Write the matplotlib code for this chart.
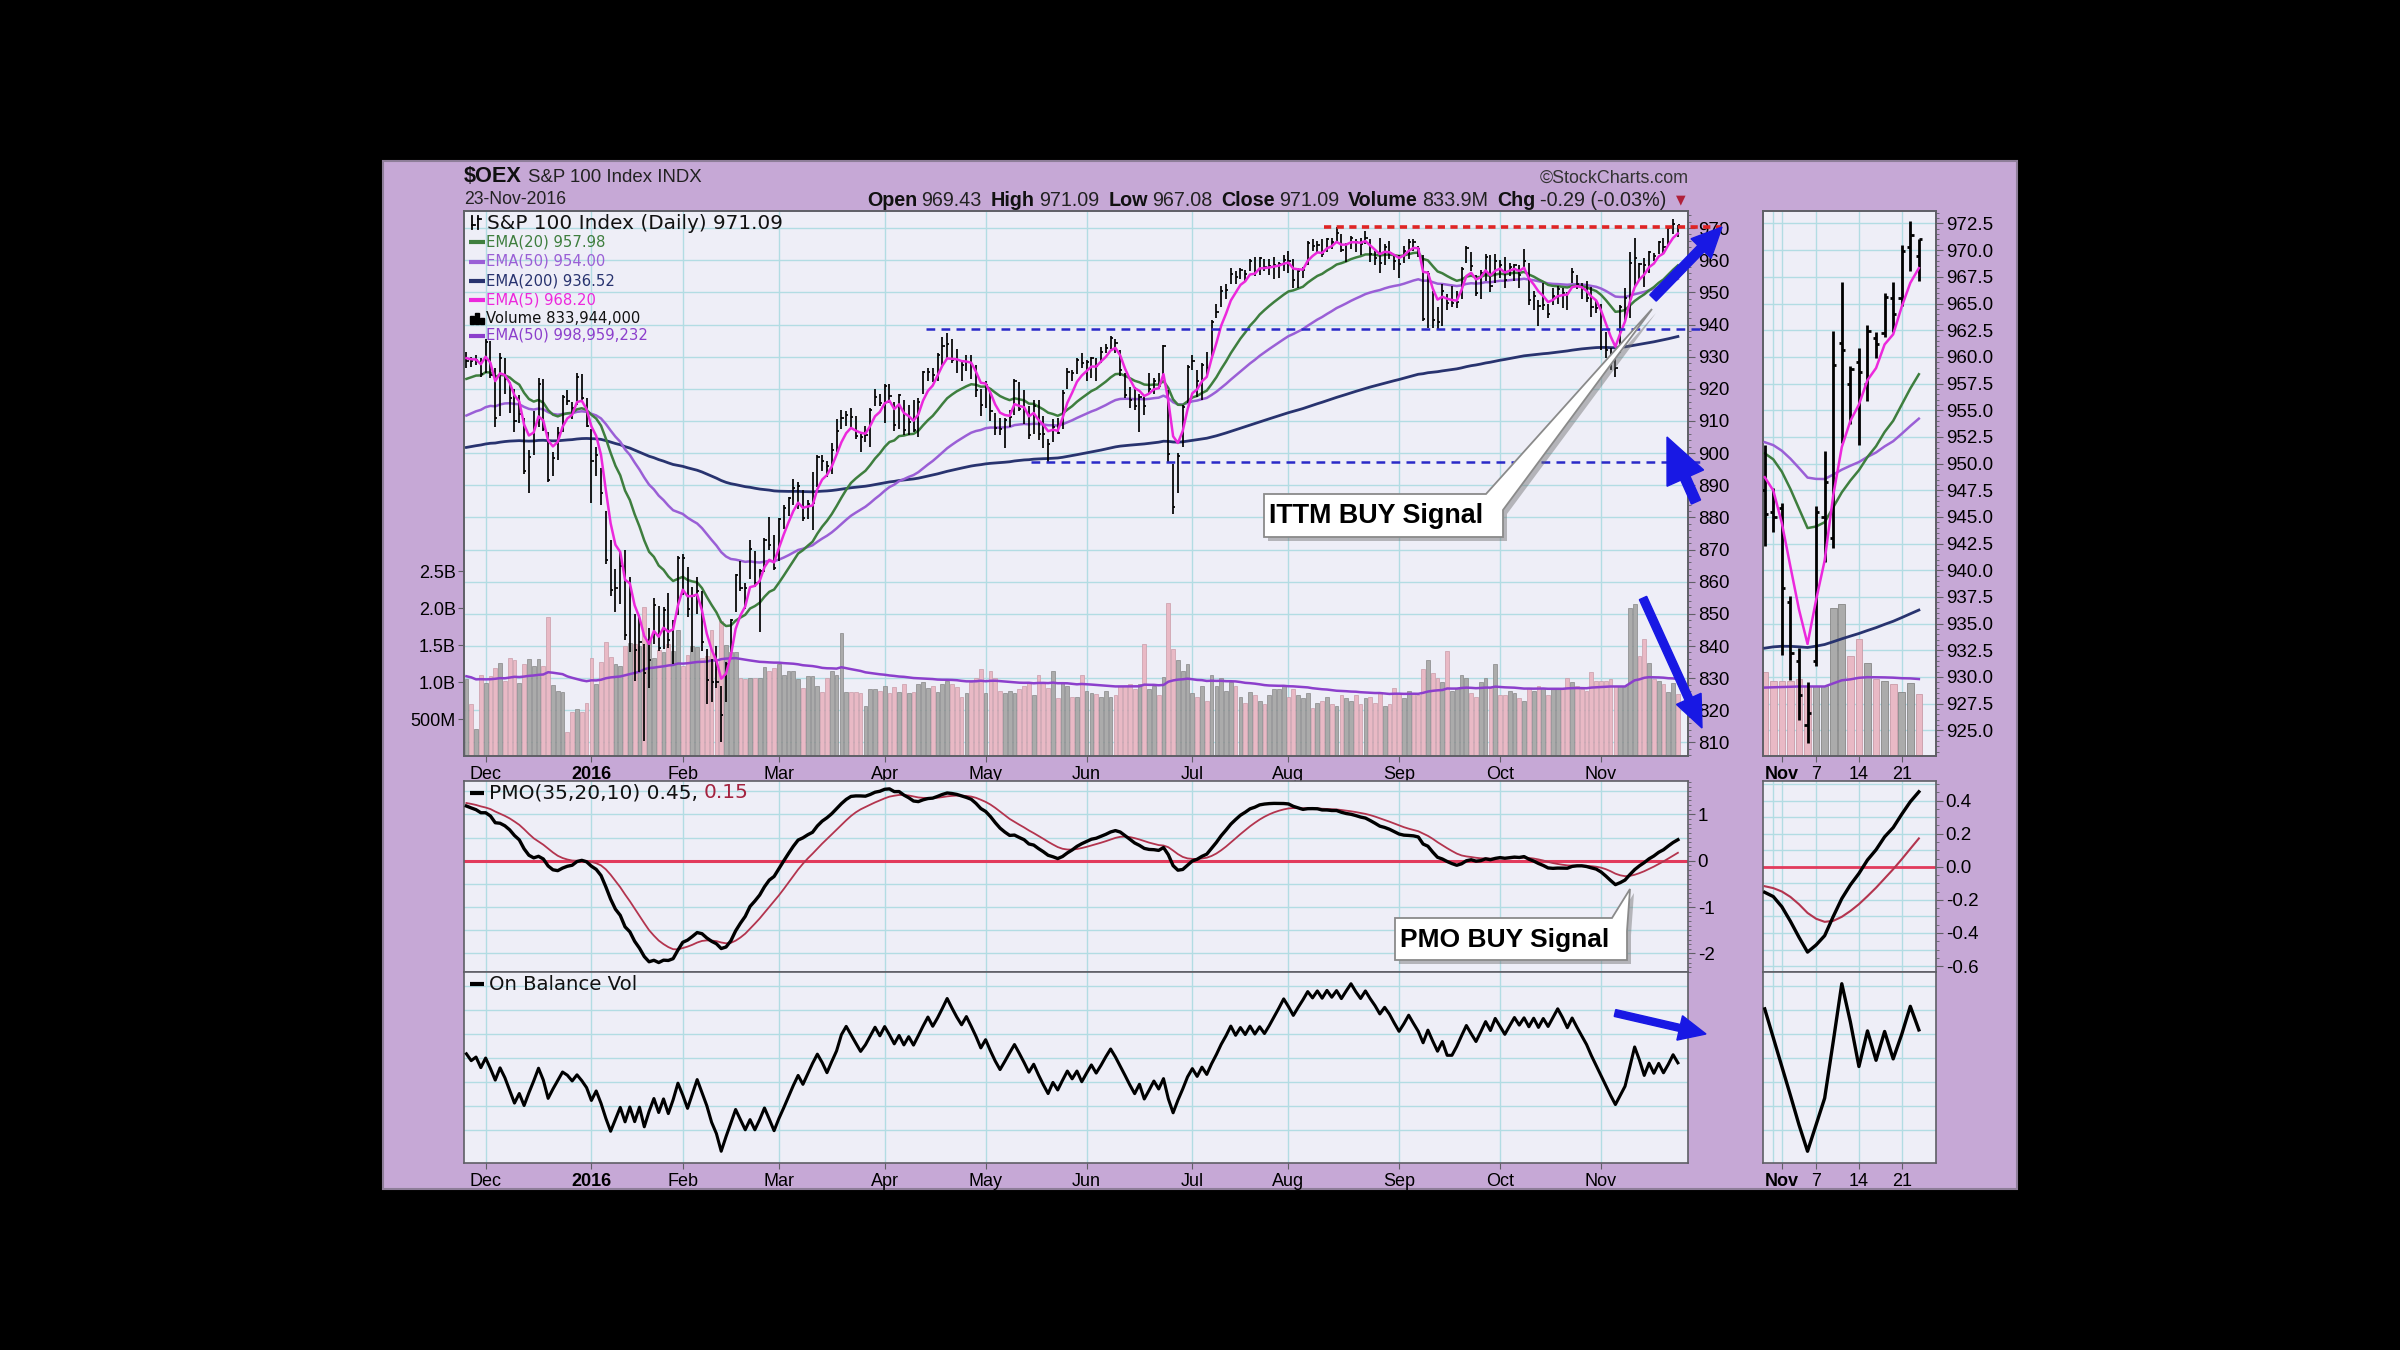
import numpy as np
import pandas as pd
import matplotlib
matplotlib.use("Agg")
import matplotlib.pyplot as plt
from matplotlib import font_manager as fm
from matplotlib.patches import Rectangle, Polygon, FancyArrow
from matplotlib.ticker import MultipleLocator

# ------------------------------------------------------------------ data
holidays = ["2015-11-26", "2015-12-25", "2016-01-01", "2016-01-18", "2016-02-15",
            "2016-03-25", "2016-05-30", "2016-07-04", "2016-09-05"]
close_before = 927.5

close_nov15 = [928.6, 928.5, 929.0, 924.7]
close_dec15 = [934.6, 924.3, 911.0, 929.7, 923.2, 917.2, 910.1, 912.2, 894.5, 898.7, 908.3,
               921.4, 907.6, 891.5, 898.4, 906.3, 917.5, 916.1, 914.1, 923.8, 917.1, 908.5]
close_jan = [897.6, 899.4, 887.7, 866.7, 857.4, 858.1, 864.8, 843.3, 857.3, 838.9, 841.3,
             831.5, 835.8, 852.7, 839.4, 851.2, 842.0, 846.7, 867.5]
close_feb = [867.3, 851.4, 855.7, 857.0, 841.2, 829.4, 828.9, 828.7, 818.6, 834.5, 848.1,
             862.0, 858.0, 857.9, 870.3, 859.5, 863.3, 873.1, 871.4, 864.4]
close_mar = [879.4, 883.0, 886.1, 889.0, 889.8, 879.8, 884.2, 884.4, 898.9, 897.7, 896.1,
             901.1, 907.0, 911.0, 911.9, 911.1, 905.3, 905.0, 905.5, 913.4, 917.4, 915.5]
close_apr = [920.8, 917.9, 908.6, 918.1, 907.1, 909.6, 907.2, 915.9, 925.1, 925.3, 924.3,
             930.4, 933.3, 934.0, 929.1, 928.9, 927.5, 928.2, 927.4, 919.7, 915.0]
close_may = [921.2, 913.1, 907.7, 907.5, 910.4, 911.1, 922.5, 913.6, 913.5, 905.7, 914.6,
             906.0, 905.8, 902.8, 908.2, 906.3, 918.8, 925.2, 925.0, 929.0, 928.0]
close_jun = [928.3, 929.7, 927.0, 931.6, 932.8, 935.9, 934.3, 925.7, 918.1, 916.4, 914.7,
             917.6, 914.6, 920.0, 922.5, 920.9, 933.3, 899.6, 883.2, 899.0, 914.4, 926.9]
close_jul = [928.7, 922.3, 927.3, 926.5, 940.7, 943.9, 950.5, 950.7, 955.7, 954.8, 957.1,
             955.7, 959.8, 956.3, 960.7, 957.8, 958.1, 958.6, 958.9, 960.1]
close_aug = [959.9, 953.7, 956.7, 956.9, 965.2, 964.3, 964.7, 961.9, 966.5, 965.7, 968.4,
             963.1, 964.9, 967.0, 965.6, 965.1, 967.0, 961.9, 960.6, 959.1, 964.1, 962.2, 959.9]
close_sep = [958.9, 962.9, 965.8, 965.7, 963.5, 941.7, 955.6, 941.4, 940.8, 950.4, 946.8,
             946.8, 947.1, 957.4, 963.7, 958.1, 949.9, 956.0, 961.1, 952.1, 959.7]
close_oct = [958.6, 953.8, 957.9, 958.4, 955.3, 959.7, 947.7, 948.8, 945.9, 946.0, 943.2,
             949.0, 951.1, 949.8, 949.7, 956.2, 952.6, 950.9, 948.1, 945.3, 945.0]
close_nov = [938.3, 932.2, 928.3, 926.6, 945.5, 948.3, 959.2, 960.6, 958.9, 958.6, 962.4,
             961.2, 965.6, 964.0, 969.9, 971.38, 971.09]

high_nov15 = [931.5, 930.0, 930.5, 929.5]
high_dec15 = [935.5, 935.0, 926.5, 931.0, 929.5, 922.0, 920.0, 918.0, 911.0, 901.0, 913.0,
              923.5, 923.0, 906.5, 900.5, 908.0, 918.0, 919.5, 916.0, 925.0, 924.5, 917.0]
high_jan = [907.5, 902.0, 895.5, 882.0, 873.0, 864.0, 869.5, 870.0, 861.5, 850.0, 849.5,
            840.5, 845.5, 855.0, 852.5, 852.0, 856.5, 848.0, 868.0]
high_feb = [868.5, 864.5, 858.5, 861.5, 857.0, 839.0, 836.0, 840.0, 827.5, 835.0, 848.5,
            862.5, 866.5, 859.5, 873.0, 869.5, 864.0, 873.5, 880.0, 874.5]
high_mar = [879.8, 884.0, 886.5, 892.0, 891.0, 888.5, 885.5, 894.0, 899.5, 899.5, 897.5,
            903.0, 910.5, 913.5, 913.0, 914.0, 911.5, 905.8, 908.5, 914.0, 920.0, 918.5]
high_apr = [921.5, 921.5, 916.0, 918.5, 916.5, 915.0, 916.5, 917.0, 925.5, 926.5, 926.5,
            931.0, 936.0, 937.3, 935.5, 932.5, 928.5, 930.5, 930.5, 927.5, 920.0]
high_may = [922.5, 919.0, 912.5, 911.0, 910.8, 913.5, 923.0, 922.0, 919.5, 914.5, 916.5,
            916.5, 911.5, 904.5, 910.5, 911.0, 919.5, 926.5, 926.0, 929.5, 931.0]
high_jun = [929.0, 930.0, 929.5, 933.0, 934.0, 936.5, 935.5, 932.0, 925.0, 920.5, 920.5,
            918.5, 917.5, 925.0, 923.5, 925.0, 933.5, 919.5, 896.5, 900.0, 915.0, 927.5]
high_jul = [930.5, 926.0, 928.0, 931.5, 941.5, 946.5, 952.0, 952.5, 957.5, 956.5, 957.5,
            957.0, 960.5, 961.0, 961.0, 960.5, 960.5, 961.0, 959.5, 961.5]
high_aug = [963.0, 960.5, 957.5, 958.0, 966.0, 966.5, 966.0, 966.5, 966.8, 967.0, 970.2,
            968.0, 965.5, 967.5, 966.5, 967.0, 969.0, 966.5, 963.0, 967.0, 965.0, 966.0, 961.5]
high_sep = [961.5, 964.5, 966.5, 966.5, 964.5, 961.5, 956.5, 950.5, 945.5, 952.5, 949.5,
            952.0, 950.5, 958.0, 964.5, 962.5, 955.5, 957.0, 961.8, 961.5, 962.0]
high_oct = [960.0, 961.0, 959.0, 958.8, 958.5, 963.5, 959.0, 950.5, 947.5, 953.0, 946.5,
            951.5, 952.0, 951.5, 950.0, 957.5, 955.5, 953.0, 953.5, 951.7, 947.7]
high_nov = [946.3, 937.6, 932.7, 929.5, 946.0, 951.2, 962.4, 967.0, 959.1, 960.8, 963.0,
            962.3, 966.0, 967.0, 970.5, 972.7, 971.09]

low_nov15 = [926.5, 926.8, 927.5, 923.8]
low_dec15 = [925.0, 923.5, 908.0, 911.5, 918.5, 912.5, 906.5, 909.5, 893.5, 887.5, 899.5,
             908.0, 907.0, 891.0, 893.0, 898.0, 906.5, 915.0, 910.5, 915.0, 916.5, 908.0]
low_jan = [884.5, 893.0, 884.0, 865.5, 855.5, 850.5, 853.0, 842.0, 838.0, 829.0, 832.0,
           810.6, 827.0, 840.5, 838.5, 839.0, 839.5, 834.5, 849.5]
low_feb = [856.0, 849.0, 838.0, 850.0, 838.5, 822.0, 822.5, 827.0, 810.2, 822.5, 838.0,
           850.5, 857.0, 851.5, 861.0, 858.5, 844.5, 863.0, 870.0, 863.5]
low_mar = [866.5, 876.5, 880.5, 884.0, 882.5, 879.0, 879.5, 876.0, 889.5, 894.5, 892.5,
           893.5, 900.5, 907.5, 908.5, 907.5, 904.5, 900.5, 903.5, 902.0, 914.5, 914.5]
low_apr = [909.5, 915.5, 907.0, 907.5, 905.5, 905.5, 906.5, 905.0, 918.5, 922.5, 922.0,
           922.5, 927.5, 929.5, 928.0, 925.0, 922.5, 925.5, 923.0, 917.5, 911.5]
low_may = [914.0, 910.0, 905.5, 905.5, 901.5, 908.0, 912.0, 913.0, 909.0, 904.5, 906.0,
           904.0, 901.5, 897.0, 903.5, 906.0, 907.5, 920.0, 922.5, 924.5, 926.5]
low_jun = [922.5, 923.5, 922.5, 928.0, 931.0, 932.5, 931.0, 924.0, 917.0, 914.0, 913.5,
           906.5, 912.0, 918.5, 918.5, 920.0, 924.0, 897.0, 881.0, 887.5, 902.0, 915.5]
low_jul = [926.0, 917.5, 916.5, 924.0, 930.0, 942.0, 945.5, 948.0, 952.5, 952.5, 954.0,
           953.5, 956.5, 955.0, 955.5, 956.5, 955.5, 954.0, 954.5, 956.5]
low_aug = [956.0, 951.5, 951.5, 954.5, 958.5, 963.0, 962.5, 961.0, 962.5, 963.5, 966.0,
           962.5, 959.5, 963.5, 962.5, 961.5, 965.0, 959.5, 958.5, 956.0, 958.5, 960.5, 957.0]
low_sep = [954.5, 959.0, 960.5, 963.0, 961.0, 941.0, 939.0, 939.0, 938.5, 939.5, 944.5,
           945.5, 945.0, 948.0, 959.0, 956.5, 949.0, 948.0, 953.5, 950.0, 953.0]
low_oct = [954.5, 951.5, 955.0, 953.5, 951.5, 957.5, 946.0, 944.5, 939.5, 944.5, 942.0,
           946.0, 946.5, 945.0, 944.5, 953.0, 951.0, 948.0, 947.0, 942.3, 943.6]
low_nov = [932.1, 929.7, 926.0, 923.8, 931.0, 940.8, 942.1, 951.9, 953.7, 951.7, 955.9,
           959.9, 961.9, 962.3, 964.8, 968.0, 967.08]

# opens for the last 19 sessions (zoomed panel, 28-Oct .. 23-Nov)
open_recent = [947.5, 945.5, 945.8, 937.0, 931.5, 925.5, 931.5, 945.0, 943.0, 961.3,
               957.5, 959.5, 957.5, 961.8, 962.2, 965.5, 965.5, 970.3, 969.43]

# volume in billions of shares
vol_nov15 = [1.04, 0.70, 0.37, 1.09]
vol_dec15 = [0.99, 1.08, 1.19, 1.26, 1.01, 1.32, 1.30, 0.99, 1.24, 1.31, 1.22, 1.31, 1.22,
             1.88, 0.96, 0.88, 0.87, 0.33, 0.59, 0.63, 0.60, 0.72]
vol_jan = [1.32, 0.98, 1.27, 1.54, 1.34, 1.24, 1.22, 1.49, 1.53, 1.51, 1.49, 2.02, 1.58,
           1.33, 1.44, 1.40, 1.51, 1.42, 1.71]
vol_feb = [1.22, 1.37, 1.49, 1.47, 1.33, 1.35, 1.71, 1.17, 1.82, 1.50, 1.40, 1.40, 1.05,
           1.04, 1.05, 1.05, 1.05, 1.20, 1.15, 1.19]
vol_mar = [1.25, 1.10, 1.15, 1.15, 1.04, 0.92, 1.08, 1.08, 0.95, 0.86, 1.05, 1.15, 1.10,
           1.66, 0.86, 0.87, 0.86, 0.85, 0.68, 0.91, 0.90, 0.88]
vol_apr = [0.95, 0.85, 0.93, 0.87, 0.98, 0.85, 0.87, 0.97, 1.00, 0.92, 0.95, 0.86, 0.98,
           1.02, 0.98, 0.93, 0.80, 0.85, 1.00, 1.05, 1.18]
vol_may = [0.85, 1.15, 1.05, 0.88, 0.85, 0.88, 0.85, 0.90, 0.95, 1.00, 0.82, 1.10, 1.00,
           0.92, 1.15, 0.78, 1.00, 0.95, 0.80, 0.80, 1.10]
vol_jun = [0.88, 0.85, 0.84, 0.80, 0.88, 0.80, 0.82, 0.95, 0.95, 0.98, 0.90, 0.97, 1.52,
           0.90, 0.95, 0.82, 1.07, 2.07, 1.45, 1.30, 1.15, 1.25]
vol_jul = [0.85, 0.80, 0.95, 0.75, 1.10, 0.95, 1.05, 0.88, 1.00, 0.95, 0.80, 0.72, 0.87,
           0.82, 0.75, 0.70, 0.82, 0.90, 0.90, 0.95]
vol_aug = [0.80, 0.90, 0.82, 0.78, 0.85, 0.65, 0.72, 0.75, 0.80, 0.70, 0.68, 0.82, 0.78,
           0.75, 0.82, 0.70, 0.78, 0.80, 0.72, 0.85, 0.68, 0.70, 0.92]
vol_sep = [0.85, 0.78, 0.88, 0.85, 0.82, 1.17, 1.30, 1.12, 1.05, 1.00, 1.42, 0.88, 0.92,
           1.10, 1.05, 0.85, 0.80, 1.00, 1.05, 0.92, 1.25]
vol_oct = [0.82, 0.82, 0.88, 0.85, 0.78, 0.75, 0.92, 0.88, 0.95, 0.92, 0.82, 0.92, 0.90,
           0.90, 1.05, 1.00, 0.95, 0.90, 0.88, 1.14, 1.02]
vol_nov = [1.02, 1.02, 1.04, 0.94, 0.94, 0.94, 2.00, 2.05, 1.35, 1.58, 1.26, 1.04, 1.02,
           0.97, 0.87, 0.99, 0.834]

# indicator starting states (values at the left edge)
ema_seeds = {5: 930.0, 20: 922.5, 50: 911.0, 200: 901.5}
vol_ema_seed = 1.08
pmo_inner_seed = 0.8
pmo_seed = 1.22
pmo_signal_seed = 1.26

price_ticks = list(range(810, 971, 10))
zoom_price_ticks = [925.0, 927.5, 930.0, 932.5, 935.0, 937.5, 940.0, 942.5, 945.0, 947.5,
                    950.0, 952.5, 955.0, 957.5, 960.0, 962.5, 965.0, 967.5, 970.0, 972.5]
vol_ticks = [0.5, 1.0, 1.5, 2.0, 2.5]
vol_tick_labels = ["500M", "1.0B", "1.5B", "2.0B", "2.5B"]
pmo_ticks = [1, 0, -1, -2]
zoom_pmo_ticks = [0.4, 0.2, 0.0, -0.2, -0.4, -0.6]

resistance_level = 970.4
support_levels = [938.5, 897.2]

# ------------------------------------------------------------------ assemble
def cat(*parts):
    out = []
    for p in parts:
        out += p
    return np.array(out, dtype=float)

close = cat(close_nov15, close_dec15, close_jan, close_feb, close_mar, close_apr, close_may,
            close_jun, close_jul, close_aug, close_sep, close_oct, close_nov)
high = cat(high_nov15, high_dec15, high_jan, high_feb, high_mar, high_apr, high_may,
           high_jun, high_jul, high_aug, high_sep, high_oct, high_nov)
low = cat(low_nov15, low_dec15, low_jan, low_feb, low_mar, low_apr, low_may,
          low_jun, low_jul, low_aug, low_sep, low_oct, low_nov)
vol = cat(vol_nov15, vol_dec15, vol_jan, vol_feb, vol_mar, vol_apr, vol_may,
          vol_jun, vol_jul, vol_aug, vol_sep, vol_oct, vol_nov)
n = len(close)
x = np.arange(n)
dates = pd.bdate_range("2015-11-24", "2016-11-23", freq="C", holidays=holidays)[:n]


def ema(values, seed, k):
    out = np.empty(len(values))
    e = seed
    for i, v in enumerate(values):
        e = e + k * (v - e)
        out[i] = e
    return out


emas = {p: ema(close, ema_seeds[p], 2.0 / (p + 1)) for p in (5, 20, 50, 200)}
vol_ema = ema(vol, vol_ema_seed, 2.0 / 51)
prev = np.concatenate([[close_before], close[:-1]])
roc = close / prev * 100 - 100
pmo_inner = ema(roc * 10, pmo_inner_seed, 2.0 / 35)
pmo = ema(pmo_inner, pmo_seed, 2.0 / 20)
pmo_sig = ema(pmo, pmo_signal_seed, 2.0 / 11)
obv = np.cumsum(np.sign(close - prev) * vol)
down = close < prev

month_idx = [i for i in range(1, n) if dates[i].month != dates[i - 1].month]
month_lbl = ["2016" if dates[i].month == 1 else dates[i].strftime("%b") for i in month_idx]

Z0 = n - 19  # first session of the zoomed panel (28-Oct)
zoom_ticks = [Z0 + 2, Z0 + 6, Z0 + 11, Z0 + 16]
zoom_tick_lbl = ["Nov", "7", "14", "21"]
zoom_grid = [Z0 + 1, Z0 + 2, Z0 + 6, Z0 + 11, Z0 + 16]

# ------------------------------------------------------------------ style
fonts = fm.fontManager.ttflist
names = {f.name for f in fonts}
SANS = "Liberation Sans" if "Liberation Sans" in names else "DejaVu Sans"
NARROW = "Liberation Sans Narrow" if "Liberation Sans Narrow" in names else SANS
VERD = "DejaVu Sans"
HAS_DJV_COND = any(f.name == "DejaVu Sans" and str(f.stretch).lower() in ("condensed", "semi-condensed")
                   for f in fonts)
LEG_FONT = dict(family="DejaVu Sans", fontstretch="condensed") if HAS_DJV_COND else dict(family=NARROW)
plt.rcParams["font.family"] = [SANS, "DejaVu Sans"]

PURPLE = "#C6A8D6"
FACE = "#EEEEF7"
GRID = "#B2DCE3"
SPINE = "#5F5F66"
C_E20, C_E50, C_E200, C_E5 = "#3E7E3E", "#9A5FD6", "#28336F", "#EC28DC"
C_VEMA = "#8C3FCC"
PINK, PINK_E = "#E9B9C5", "#C99CA8"
GREY, GREY_E = "#ABABAB", "#878787"
BLUE = "#1818E4"

W, H = 2400, 1350
fig = plt.figure(figsize=(24, 13.5), dpi=100, facecolor="black")
renderer = fig.canvas.get_renderer()


def rect(x0, y0, x1, y1):
    return [x0 / W, 1 - y1 / H, (x1 - x0) / W, (y1 - y0) / H]


bg = fig.add_axes([0, 0, 1, 1], zorder=-5)
bg.set_xlim(0, W); bg.set_ylim(H, 0); bg.axis("off")
bg.add_patch(Rectangle((383, 161), 1634, 1028, facecolor=PURPLE, edgecolor="#8E7E99", lw=1.5))


def fit_text(ax, xx, yy, s, width, size=12, **kw):
    t = ax.text(xx, yy, s, fontsize=size, parse_math=False, **kw)
    w = t.get_window_extent(renderer).width
    if w > 0:
        t.set_fontsize(size * width / w)
    return t


def seq_text(ax, xx, yy, pieces, size, family):
    arts = []
    for s, bold, color, gap in pieces:
        t = ax.text(xx, yy, s, fontsize=size, fontweight="bold" if bold else "normal",
                    family=family, color=color, va="center", ha="left", parse_math=False)
        xx += t.get_window_extent(renderer).width + gap * size * 100 / 72
        arts.append(t)
    return arts, xx


def fit_seq(ax, xx, yy, pieces, width, family, size=12):
    arts, end = seq_text(ax, xx, yy, pieces, size, family)
    for a in arts:
        a.remove()
    seq_text(ax, xx, yy, pieces, size * width / (end - xx), family)


def style_axes(ax):
    ax.set_facecolor(FACE)
    for sp in ax.spines.values():
        sp.set_color(SPINE)
        sp.set_linewidth(1.2)


def hgrid(ax, fracs):
    for f in fracs:
        ax.plot([0, 1], [f, f], transform=ax.transAxes, color=GRID, lw=1.0, zorder=0)


def vgrid(ax, xs):
    for m in xs:
        ax.axvline(m, color=GRID, lw=1.0, zorder=0)


# header
fit_text(bg, 464, 176, "$OEX", 58, weight="bold", family=SANS, va="center", color="#111")
fit_text(bg, 528, 177, "S&P 100 Index INDX", 174, family=SANS, va="center", color="#222")
fit_text(bg, 464, 200, "23-Nov-2016", 102, family=SANS, va="center", color="#222")
fit_text(bg, 1540, 178, "\u00a9StockCharts.com", 149, family=SANS, va="center", color="#333")
fit_seq(bg, 867, 200, [("Open", True, "#111", 0.22), ("969.43", False, "#222", 0.45),
                       ("High", True, "#111", 0.22), ("971.09", False, "#222", 0.45),
                       ("Low", True, "#111", 0.22), ("967.08", False, "#222", 0.45),
                       ("Close", True, "#111", 0.22), ("971.09", False, "#222", 0.45),
                       ("Volume", True, "#111", 0.22), ("833.9M", False, "#222", 0.45),
                       ("Chg", True, "#111", 0.22), ("-0.29 (-0.03%)", False, "#222", 0)],
        799, NARROW, size=13)
bg.text(1676, 200, "\u25bc", fontsize=9, color="#B0203A", family=VERD, va="center")

# ------------------------------------------------------------------ main price + volume
XL = (-0.5, 254.1)
PMIN, PMAX = 805.8, 975.3
VMAX = 7.37

ax_vol = fig.add_axes(rect(464, 211, 1688, 756))
style_axes(ax_vol)
ax_pr = ax_vol.twinx()
ax_vol.set_xlim(*XL); ax_vol.set_ylim(0, VMAX); ax_pr.set_ylim(PMIN, PMAX)
hgrid(ax_vol, [(p - PMIN) / (PMAX - PMIN) for p in price_ticks])
vgrid(ax_vol, month_idx)
ax_vol.bar(x, vol, width=0.78, color=np.where(down, PINK, GREY),
           edgecolor=np.where(down, PINK_E, GREY_E), lw=0.5, zorder=1)
ax_vol.plot(x, vol_ema, color=C_VEMA, lw=1.8, zorder=2)
ax_vol.set_yticks(vol_ticks)
ax_vol.set_yticklabels(vol_tick_labels)
ax_vol.set_xticks(month_idx)
ax_vol.set_xticklabels(month_lbl)
ax_vol.tick_params(axis="y", labelsize=13, length=4, color=SPINE, pad=2)
ax_vol.tick_params(axis="x", labelsize=13, length=4, color=SPINE, pad=3)
for lb, s in zip(ax_vol.get_xticklabels(), month_lbl):
    if s == "2016":
        lb.set_fontweight("bold")

ax_pr.plot(x, emas[200], color=C_E200, lw=2.0, zorder=3)
ax_pr.plot(x, emas[50], color=C_E50, lw=1.8, zorder=3)
ax_pr.plot(x, emas[20], color=C_E20, lw=1.8, zorder=3)
ax_pr.vlines(x, low, high, color="black", lw=1.25, zorder=4)
ax_pr.hlines(close, x, x + 0.45, color="black", lw=1.25, zorder=4)
ax_pr.plot(x, emas[5], color=C_E5, lw=1.8, zorder=5)
ax_pr.set_yticks(price_ticks)
ax_pr.yaxis.set_minor_locator(MultipleLocator(2))
ax_pr.tick_params(axis="y", which="major", labelsize=13.5, length=5, color=SPINE, pad=2)
ax_pr.tick_params(axis="y", which="minor", length=2.5, color=SPINE)
for sp in ax_pr.spines.values():
    sp.set_color(SPINE); sp.set_linewidth(1.2)

ax_pr.plot([178.4, 261], [resistance_level] * 2, color="#E02424", lw=2.6,
           dashes=(2.0, 1.5), clip_on=False, zorder=6)
ax_pr.plot([95.7, 257], [support_levels[0]] * 2, color="#2A2AC8", lw=1.8,
           dashes=(3.5, 2.5), clip_on=False, zorder=6)
ax_pr.plot([117.4, 257], [support_levels[1]] * 2, color="#2A2AC8", lw=1.8,
           dashes=(3.5, 2.5), clip_on=False, zorder=6)

# ------------------------------------------------------------------ PMO
ax_pmo = fig.add_axes(rect(464, 781, 1688, 972))
style_axes(ax_pmo)
ax_pmo.set_xlim(*XL); ax_pmo.set_ylim(-2.4, 1.72)
hgrid(ax_pmo, [(v + 2.4) / 4.12 for v in np.arange(-2.0, 1.6, 0.5)])
vgrid(ax_pmo, month_idx)
ax_pmo.axhline(0, color="#E23A5C", lw=2.2, zorder=2)
ax_pmo.plot(x, pmo_sig, color="#B3344E", lw=1.3, zorder=3)
ax_pmo.plot(x, pmo, color="black", lw=2.4, zorder=4)
ax_pmo.yaxis.tick_right()
ax_pmo.set_yticks(pmo_ticks)
ax_pmo.set_yticklabels([str(t) for t in pmo_ticks])
ax_pmo.yaxis.set_minor_locator(MultipleLocator(0.1))
ax_pmo.tick_params(axis="y", which="major", labelsize=13.5, length=5, color=SPINE, pad=2)
ax_pmo.tick_params(axis="y", which="minor", length=2.5, color=SPINE)
ax_pmo.tick_params(axis="x", bottom=False, labelbottom=False)

# ------------------------------------------------------------------ OBV
ax_obv = fig.add_axes(rect(464, 972, 1688, 1163))
style_axes(ax_obv)
ax_obv.set_xlim(*XL)
lo, hi = obv.min(), obv.max()
pad = 0.07 * (hi - lo)
ax_obv.set_ylim(lo - pad, hi + pad)
hgrid(ax_obv, np.linspace(0, 1, 9)[1:-1] + 0.05)
vgrid(ax_obv, month_idx)
ax_obv.plot(x, obv, color="black", lw=2.2, zorder=3)
ax_obv.set_yticks([])
ax_obv.set_xticks(month_idx)
ax_obv.set_xticklabels(month_lbl)
ax_obv.tick_params(axis="x", labelsize=13, length=4, color=SPINE, pad=3)
for lb, s in zip(ax_obv.get_xticklabels(), month_lbl):
    if s == "2016":
        lb.set_fontweight("bold")

# ------------------------------------------------------------------ zoomed panels
ZXL = (Z0 - 0.2, n + 1.0)
zs = slice(Z0, n)
xz = x[zs]

az_vol = fig.add_axes(rect(1763, 211, 1936, 756))
style_axes(az_vol)
az_pr = az_vol.twinx()
az_vol.set_xlim(*ZXL); az_vol.set_ylim(0, VMAX)
ZPMIN, ZPMAX = 922.59, 973.67
az_pr.set_ylim(ZPMIN, ZPMAX)
hgrid(az_vol, [(p - ZPMIN) / (ZPMAX - ZPMIN) for p in zoom_price_ticks])
vgrid(az_vol, zoom_grid)
az_vol.bar(xz, vol[zs], width=0.78, color=np.where(down[zs], PINK, GREY),
           edgecolor=np.where(down[zs], PINK_E, GREY_E), lw=0.6, zorder=1)
az_vol.plot(xz, vol_ema[zs], color=C_VEMA, lw=1.8, zorder=2)
az_vol.set_yticks([])
az_vol.set_xticks(zoom_ticks)
az_vol.set_xticklabels(zoom_tick_lbl)
az_vol.tick_params(axis="x", labelsize=13, length=4, color=SPINE, pad=3)
az_vol.get_xticklabels()[0].set_fontweight("bold")
az_pr.plot(xz, emas[200][zs], color=C_E200, lw=2.0, zorder=3)
az_pr.plot(xz, emas[50][zs], color=C_E50, lw=1.8, zorder=3)
az_pr.plot(xz, emas[20][zs], color=C_E20, lw=1.8, zorder=3)
az_pr.vlines(xz, low[zs], high[zs], color="black", lw=2.0, zorder=4)
az_pr.hlines(close[zs], xz, xz + 0.38, color="black", lw=2.0, zorder=4)
az_pr.hlines(open_recent, xz - 0.38, xz, color="black", lw=2.0, zorder=4)
az_pr.plot(xz, emas[5][zs], color=C_E5, lw=1.8, zorder=5)
az_pr.set_yticks(zoom_price_ticks)
az_pr.set_yticklabels([f"{t:.1f}" for t in zoom_price_ticks])
az_pr.yaxis.set_minor_locator(MultipleLocator(0.5))
az_pr.tick_params(axis="y", which="major", labelsize=13.5, length=5, color=SPINE, pad=2)
az_pr.tick_params(axis="y", which="minor", length=2.5, color=SPINE)
for sp in az_pr.spines.values():
    sp.set_color(SPINE); sp.set_linewidth(1.2)

az_pmo = fig.add_axes(rect(1763, 781, 1936, 972))
style_axes(az_pmo)
az_pmo.set_xlim(*ZXL); az_pmo.set_ylim(-0.636, 0.519)
hgrid(az_pmo, [(v + 0.636) / 1.155 for v in np.arange(-0.6, 0.51, 0.1)])
vgrid(az_pmo, zoom_grid)
az_pmo.axhline(0, color="#E23A5C", lw=2.0, zorder=2)
az_pmo.plot(xz, pmo_sig[zs], color="#B3344E", lw=1.5, zorder=3)
az_pmo.plot(xz, pmo[zs], color="black", lw=2.4, zorder=4)
az_pmo.yaxis.tick_right()
az_pmo.set_yticks(zoom_pmo_ticks)
az_pmo.set_yticklabels([f"{t:.1f}" for t in zoom_pmo_ticks])
az_pmo.yaxis.set_minor_locator(MultipleLocator(0.05))
az_pmo.tick_params(axis="y", which="major", labelsize=13.5, length=5, color=SPINE, pad=2)
az_pmo.tick_params(axis="y", which="minor", length=2.5, color=SPINE)
az_pmo.tick_params(axis="x", bottom=False, labelbottom=False)

az_obv = fig.add_axes(rect(1763, 972, 1936, 1163))
style_axes(az_obv)
az_obv.set_xlim(*ZXL)
zlo, zhi = obv[zs].min(), obv[zs].max()
zpad = 0.07 * (zhi - zlo)
az_obv.set_ylim(zlo - zpad, zhi + zpad)
hgrid(az_obv, np.linspace(0, 1, 9)[1:-1] + 0.05)
vgrid(az_obv, zoom_grid)
az_obv.plot(xz, obv[zs], color="black", lw=2.4, zorder=3)
az_obv.set_yticks([])
az_obv.set_xticks(zoom_ticks)
az_obv.set_xticklabels(zoom_tick_lbl)
az_obv.tick_params(axis="x", labelsize=13, length=4, color=SPINE, pad=3)
az_obv.get_xticklabels()[0].set_fontweight("bold")

# ------------------------------------------------------------------ overlay: legends, notes
ov = fig.add_axes([0, 0, 1, 1], zorder=10)
ov.set_xlim(0, W); ov.set_ylim(H, 0); ov.axis("off")

rows = [223.3, 242.3, 261.5, 280.8, 300.0, 318.5, 335.5]
# price icon
for xx in (472, 478):
    ov.plot([xx, xx], [rows[0] - 7, rows[0] + 6], color="black", lw=1.3)
ov.plot([472, 474.5], [rows[0] + 2, rows[0] + 2], color="black", lw=1.3)
ov.plot([478, 480.5], [rows[0] - 4, rows[0] - 4], color="black", lw=1.3)
fit_text(ov, 487, rows[0], "S&P 100 Index (Daily) 971.09", 294, family=VERD, va="center", color="#111")
tv = fit_text(ov, 486, rows[5], "Volume 833,944,000", 153, va="center", color="#111", **LEG_FONT)
lsz = tv.get_fontsize()
legend_rows = [("EMA(20) 957.98", C_E20), ("EMA(50) 954.00", C_E50), ("EMA(200) 936.52", C_E200),
               ("EMA(5) 968.20", C_E5)]
for (s, c), yy in zip(legend_rows, rows[1:5]):
    ov.plot([469, 485], [yy, yy], color=c, lw=3.0, solid_capstyle="butt")
    ov.text(486, yy, s, fontsize=lsz, color=c, va="center", **LEG_FONT)
for bx, bh in ((470, 8), (475, 11), (480, 6)):
    ov.add_patch(Rectangle((bx, rows[5] + 5 - bh), 4, bh, color="black"))
ov.plot([469, 485], [rows[6], rows[6]], color=C_VEMA, lw=3.0, solid_capstyle="butt")
ov.text(486, rows[6], "EMA(50) 998,959,232", fontsize=lsz, color=C_VEMA, va="center", **LEG_FONT)

# PMO / OBV labels
ov.plot([470, 484], [793, 793], color="black", lw=3.0, solid_capstyle="butt")
fit_seq(ov, 489, 793, [("PMO(35,20,10) 0.45,", False, "#111", 0.3), ("0.15", False, "#A3233F", 0)],
        257, VERD, size=11)
ov.plot([470, 484], [984, 984], color="black", lw=3.0, solid_capstyle="butt")
fit_text(ov, 489, 984, "On Balance Vol", 148, family=VERD, va="center", color="#111")


# callouts
def callout(pts, tx, ty, text, width):
    shadow = Polygon([(px + 4, py + 4) for px, py in pts], closed=True, facecolor="#6E6E6E",
                     edgecolor="none", alpha=0.45, zorder=1)
    ov.add_patch(shadow)
    ov.add_patch(Polygon(pts, closed=True, facecolor="white", edgecolor="#8A8A8A", lw=1.3, zorder=2))
    t = fit_text(ov, tx, ty, text, width, family=SANS, weight="bold", va="center", color="black")
    t.set_zorder(3)


callout([(1264, 494), (1486, 494), (1652, 309), (1503, 510), (1503, 537), (1264, 537)],
        1269, 516, "ITTM BUY Signal", 213)
callout([(1395, 918), (1612, 918), (1630, 889), (1627, 931), (1627, 960), (1395, 960)],
        1400, 940, "PMO BUY Signal", 208)


def arrow(x0, y0, x1, y1, w, hw, hl):
    ov.add_patch(FancyArrow(x0, y0, x1 - x0, y1 - y0, width=w, head_width=hw, head_length=hl,
                            length_includes_head=True, color=BLUE, zorder=5))


arrow(1653, 298, 1722, 227, 9, 28, 30)
arrow(1696, 502, 1667, 437, 10, 40, 45)
arrow(1643, 598, 1702, 728, 8, 27, 32)
arrow(1615, 1013, 1706, 1034, 7, 25, 27)

fig.savefig("out.png", dpi=100, facecolor="black")
